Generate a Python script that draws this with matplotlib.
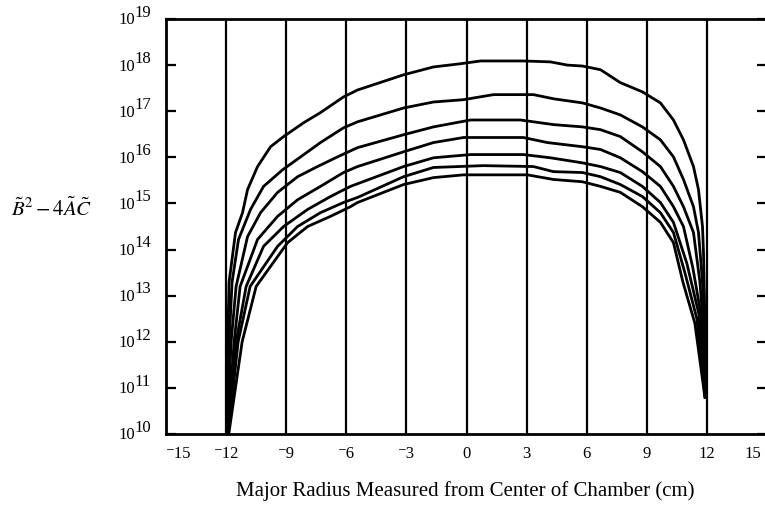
import numpy as np
import matplotlib
matplotlib.use("Agg")
import matplotlib.pyplot as plt
from matplotlib.transforms import ScaledTranslation

plt.rcParams['font.family'] = ['Liberation Serif', 'DejaVu Serif']
plt.rcParams['mathtext.fontset'] = 'stix'

# curves: x in cm, y as log10 of B^2 - 4AC
x1 = [-11.96, -11.92, -11.85, -11.53, -11.18, -10.93, -10.43, -9.78, -9.13, -8.13, -7.29, -6.14, -5.44,
      -3.14, -1.65, -0.30, 0.70, 2.84, 4.19, 5.04, 5.79, 6.69, 7.68, 8.78, 9.68, 10.33, 10.83, 11.33,
      11.58, 11.78, 11.83, 11.90, 11.93]
e1 = [9.9, 12.0, 13.3, 14.37, 14.80, 15.30, 15.80, 16.23, 16.45, 16.75, 16.97, 17.31, 17.46,
      17.79, 17.96, 18.03, 18.09, 18.09, 18.07, 18.00, 17.98, 17.90, 17.62, 17.42, 17.18, 16.81, 16.38, 15.80,
      15.30, 14.50, 13.94, 12.5, 10.8]

x2 = [-11.95, -11.85, -11.70, -11.38, -10.78, -10.13, -9.18, -8.28, -7.29, -6.14, -5.44, -3.14, -1.65,
      -0.15, 1.35, 3.34, 4.34, 5.79, 6.69, 7.68, 8.78, 9.68, 10.33, 10.83, 11.33, 11.58, 11.78, 11.88, 11.93]
e2 = [9.9, 12.0, 13.3, 14.22, 14.87, 15.37, 15.73, 16.01, 16.32, 16.64, 16.77, 17.07, 17.20,
      17.25, 17.36, 17.36, 17.27, 17.18, 17.07, 16.92, 16.66, 16.38, 16.01, 15.52, 14.93, 14.37, 13.3, 12.3, 10.8]

x3 = [-11.95, -11.75, -11.50, -10.93, -10.28, -9.43, -8.43, -7.44, -6.44, -5.44, -3.14, -1.65, 0.20,
      2.69, 4.34, 5.79, 6.69, 7.68, 8.78, 9.68, 10.33, 10.83, 11.33, 11.65, 11.85, 11.93]
e3 = [9.9, 12.0, 13.2, 14.28, 14.80, 15.24, 15.58, 15.80, 16.01, 16.21, 16.49, 16.66, 16.81,
      16.81, 16.71, 16.66, 16.60, 16.45, 16.12, 15.80, 15.37, 14.93, 14.37, 13.3, 12.2, 10.8]

x4 = [-11.94, -11.60, -11.30, -10.43, -9.43, -8.43, -7.29, -6.14, -5.44, -3.14, -1.65, -0.15,
      2.84, 4.04, 5.79, 6.69, 7.68, 8.78, 9.68, 10.33, 10.83, 11.30, 11.70, 11.92]
e4 = [9.9, 12.0, 13.2, 14.22, 14.72, 15.08, 15.37, 15.67, 15.80, 16.12, 16.32, 16.43,
      16.43, 16.32, 16.23, 16.17, 15.99, 15.69, 15.37, 14.93, 14.50, 13.6, 12.6, 10.8]

x5 = [-11.93, -11.50, -11.00, -10.13, -9.13, -7.93, -6.79, -5.79, -3.14, -1.65, 0.20, 2.84, 4.19,
      5.79, 6.69, 7.68, 8.78, 9.68, 10.33, 11.00, 11.60, 11.92]
e5 = [9.9, 12.0, 13.2, 14.07, 14.50, 14.87, 15.15, 15.37, 15.80, 15.99, 16.06, 16.06, 15.99,
      15.88, 15.80, 15.67, 15.37, 15.02, 14.59, 13.7, 12.6, 10.8]

x6 = [-11.92, -11.40, -10.80, -9.43, -8.43, -7.29, -6.14, -5.44, -3.14, -1.65, 0.85, 3.34, 4.34,
      5.79, 6.69, 7.68, 8.78, 9.68, 10.33, 10.90, 11.50, 11.91]
e6 = [9.9, 12.0, 13.2, 14.07, 14.50, 14.80, 15.02, 15.13, 15.58, 15.78, 15.82, 15.80, 15.69,
      15.67, 15.58, 15.41, 15.15, 14.80, 14.37, 13.5, 12.5, 10.8]

x7 = [-11.90, -11.20, -10.50, -8.93, -7.93, -6.79, -5.79, -5.44, -3.14, -1.65, -0.15, 3.04, 4.34,
      5.79, 6.69, 7.68, 8.78, 9.68, 10.33, 10.80, 11.40, 11.90]
e7 = [9.9, 12.0, 13.2, 14.15, 14.50, 14.72, 14.93, 15.02, 15.41, 15.56, 15.62, 15.62, 15.52,
      15.47, 15.37, 15.24, 14.93, 14.59, 14.15, 13.3, 12.4, 10.8]

grid_x = [-12, -9, -6, -3, 0, 3, 6, 9, 12]
xticks = [-15, -12, -9, -6, -3, 0, 3, 6, 9, 12, 15]
xlabels = ['\u207b15', '\u207b12', '\u207b9', '\u207b6', '\u207b3', '0', '3', '6', '9', '12', '15']
decades = list(range(10, 20))

fig = plt.figure(figsize=(7.65, 5.09), dpi=100)
ax = fig.add_axes([166 / 765, 75 / 509, 601 / 765, 415 / 509])

for gx in grid_x:
    ax.axvline(gx, color='black', lw=1.6, zorder=1)

for xs, es in [(x1, e1), (x2, e2), (x3, e3), (x4, e4), (x5, e5), (x6, e6), (x7, e7)]:
    ax.plot(xs, 10.0 ** np.array(es), color='black', lw=2.0, zorder=2)

ax.set_yscale('log')
ax.set_xlim(-15, 15)
ax.set_ylim(1e10, 1e19)

for s in ax.spines.values():
    s.set_linewidth(2.0)

ax.set_xticks(xticks)
ax.set_xticklabels(xlabels, fontsize=12)
ax.tick_params(axis='x', length=0, pad=9)
labs = ax.get_xticklabels()
labs[0].set_ha('left')
labs[-1].set_ha('right')
# pull the last label back inside the picture
labs[-1].set_transform(labs[-1].get_transform() + ScaledTranslation(-4 / 72, 0, fig.dpi_scale_trans))

ax.set_yticks([10.0 ** d for d in decades])
ax.yaxis.set_minor_locator(matplotlib.ticker.NullLocator())
ax.set_yticklabels([])
ax.tick_params(axis='y', direction='in', length=7, width=1.6, right=True)

# "10" with a raised exponent, as in the picture
for d in decades:
    ax.annotate('10', xy=(0, 10.0 ** d), xycoords=('axes fraction', 'data'),
                xytext=(-22, -1), textcoords='offset points', ha='right', va='center', fontsize=12)
    ax.annotate(str(d), xy=(0, 10.0 ** d), xycoords=('axes fraction', 'data'),
                xytext=(-22.5, 4.5), textcoords='offset points', ha='left', va='center', fontsize=12)

fig.text(52 / 765, 1 - 209 / 509, r'$\tilde{B}^2 - 4\tilde{A}\tilde{C}$', fontsize=15,
         ha='center', va='center')
fig.text(465 / 765, 1 - 491 / 509, 'Major Radius Measured from Center of Chamber (cm)',
         fontsize=15, ha='center', va='center')

fig.savefig('out.png', dpi=100)
